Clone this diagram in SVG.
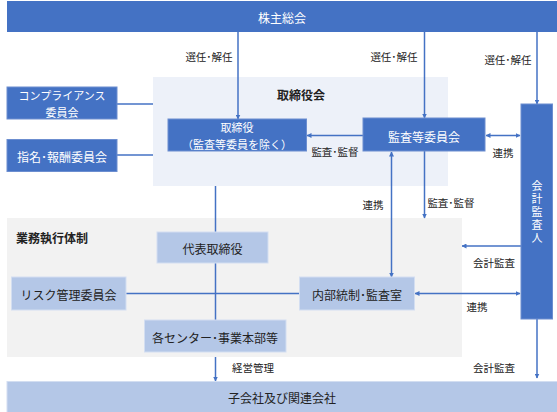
<svg xmlns="http://www.w3.org/2000/svg" width="557" height="412" viewBox="0 0 557 412">
<defs>
<marker id="ah" viewBox="0 0 10 10" refX="9" refY="5" markerWidth="5" markerHeight="5" orient="auto-start-reverse" markerUnits="userSpaceOnUse">
<path d="M0,0 L10,5 L0,10 z" fill="#4472C4"/>
</marker>
<style>
text{font-family:"Noto Sans CJK JP","Noto Sans CJK SC",sans-serif;text-anchor:middle;dominant-baseline:central}
.dk{fill:#4472C4;stroke:#6C8ED0;stroke-width:1}
.lt{fill:#B4C7E7;stroke:#D3DEF1;stroke-width:1}
.wt{fill:#FFFFFF;font-size:12px}
.w2{fill:#FFFFFF;font-size:11px}
.bk{fill:#222222;font-size:12px}
.lb{fill:#222222;font-size:10.5px}
.ln{stroke:#4472C4;stroke-width:1.5;fill:none}
.ar{stroke:#4472C4;stroke-width:1.5;fill:none;marker-end:url(#ah)}
.da{stroke:#4472C4;stroke-width:1.5;fill:none;marker-end:url(#ah);marker-start:url(#ah)}
</style>
</defs>
<rect width="557" height="412" fill="#FFFFFF"/>
<g id="panel-board">
<rect x="153" y="77" width="295" height="109" fill="#EDF1F9"/>
<text x="301" y="94" class="bk" font-weight="bold">取締役会</text>
</g>
<g id="panel-exec">
<rect x="7" y="218" width="455" height="139" fill="#F2F2F2"/>
<text x="16" y="237" class="bk" font-weight="bold" style="text-anchor:start">業務執行体制</text>
</g>
<g id="connectors">
<line x1="238" y1="32" x2="238" y2="119" class="ar"/>
<line x1="424.5" y1="32" x2="424.5" y2="118" class="ar"/>
<line x1="537" y1="32" x2="537" y2="104" class="ar"/>
<line x1="117" y1="104" x2="153" y2="104" class="ln"/>
<line x1="117" y1="155" x2="153" y2="155" class="ln"/>
<line x1="363" y1="135.5" x2="307" y2="135.5" class="ar"/>
<line x1="486" y1="135.5" x2="520" y2="135.5" class="da"/>
<line x1="215.5" y1="186" x2="215.5" y2="232" class="ln"/>
<line x1="215.5" y1="263" x2="215.5" y2="320" class="ln"/>
<line x1="126" y1="293.5" x2="299.5" y2="293.5" class="ln"/>
<line x1="391.5" y1="152" x2="391.5" y2="277" class="da"/>
<line x1="424.5" y1="151" x2="424.5" y2="218" class="ar"/>
<line x1="521" y1="246" x2="462" y2="246" class="ar"/>
<line x1="415" y1="293.5" x2="520" y2="293.5" class="da"/>
<line x1="215.5" y1="357" x2="215.5" y2="381" class="ar"/>
<line x1="537" y1="319" x2="537" y2="378" class="ar"/>
<text x="209" y="56" class="lb">選任･解任</text>
<text x="394" y="56" class="lb">選任･解任</text>
<text x="508" y="59" class="lb">選任･解任</text>
<text x="335" y="151.5" class="lb">監査･監督</text>
<text x="503" y="152.5" class="lb">連携</text>
<text x="373" y="204" class="lb">連携</text>
<text x="451" y="202" class="lb">監査･監督</text>
<text x="494" y="262" class="lb">会計監査</text>
<text x="477" y="306.5" class="lb">連携</text>
<text x="253" y="367.5" class="lb">経営管理</text>
<text x="494" y="367" class="lb">会計監査</text>
</g>
<g id="shareholders">
<rect x="7" y="1" width="551" height="31" fill="#4472C4"/>
<text x="282" y="17" class="wt">株主総会</text>
</g>
<g id="compliance">
<rect x="7" y="87" width="110" height="32" class="dk"/>
<text class="w2"><tspan x="62" y="95">コンプライアンス</tspan><tspan x="62" y="111.5">委員会</tspan></text>
</g>
<g id="nomination">
<rect x="7" y="139.5" width="110" height="32" class="dk"/>
<text x="62" y="156" class="wt">指名･報酬委員会</text>
</g>
<g id="directors">
<rect x="168" y="119" width="138.5" height="32" class="dk"/>
<text class="w2"><tspan x="237" y="127">取締役</tspan><tspan x="237" y="143.5">（監査等委員を除く）</tspan></text>
</g>
<g id="audit-committee">
<rect x="363" y="118" width="122" height="33" class="dk"/>
<text x="424" y="136" class="wt">監査等委員会</text>
</g>
<g id="accounting-auditor">
<rect x="521" y="104" width="31.5" height="215" class="dk"/>
<text x="537" y="180" fill="#FFFFFF" font-size="11px" style="writing-mode:vertical-rl;text-orientation:upright;text-anchor:start;letter-spacing:2px">会計監査人</text>
</g>
<g id="representative">
<rect x="157" y="232" width="111" height="31" class="lt"/>
<text x="212.5" y="248" class="bk">代表取締役</text>
</g>
<g id="risk">
<rect x="11.5" y="277" width="114.5" height="33" class="lt"/>
<text x="68.5" y="294" class="bk">リスク管理委員会</text>
</g>
<g id="internal-audit">
<rect x="299.5" y="277" width="115" height="33" class="lt"/>
<text x="357" y="294" class="bk">内部統制･監査室</text>
</g>
<g id="centers">
<rect x="144.5" y="320" width="141.5" height="32" class="lt"/>
<text x="215" y="337.5" class="bk">各センター･事業本部等</text>
</g>
<g id="subsidiaries">
<rect x="7" y="381.5" width="551" height="31" class="lt"/>
<text x="282" y="397" class="bk">子会社及び関連会社</text>
</g>
</svg>
